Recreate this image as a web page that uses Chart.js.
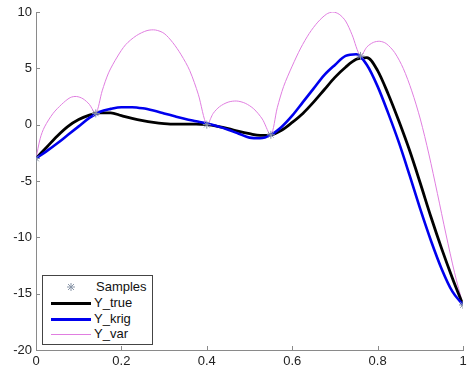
<!DOCTYPE html>
<html lang="en">
<head>
    <meta charset="UTF-8">
    <title>Kriging fit</title>
    <script src="https://cdn.jsdelivr.net/npm/chart.js"></script>
    <style>
        body { margin: 0; background: #fff; }
        #wrap { position: relative; width: 468px; height: 371px; }
        #legend {
            position: absolute; left: 42px; top: 275px; width: 109px; height: 68px;
            border: 1px solid #444; background: #fff;
            font: 13px "Liberation Sans", Arial, sans-serif; color: #111;
        }
        .row { position: absolute; left: 0; height: 16px; line-height: 16px; }
        .sw { position: absolute; left: 8px; width: 40px; }
        .lbl { position: absolute; left: 51px; white-space: nowrap; }
    </style>
</head>
<body>
    <div id="wrap">
        <canvas id="myChart" width="468" height="371"></canvas>
        <div id="legend">
            <div class="row" style="top:3px">
                <svg class="sw" style="top:3px" width="40" height="10">
                    <g stroke="#8a96a8" stroke-width="1">
                        <line x1="16" y1="5" x2="24" y2="5"/><line x1="20" y1="1" x2="20" y2="9"/>
                        <line x1="17" y1="2" x2="23" y2="8"/><line x1="23" y1="2" x2="17" y2="8"/>
                    </g>
                </svg>
                <span class="lbl" style="left:53px">Samples</span>
            </div>
            <div class="row" style="top:19px">
                <span class="sw" style="top:7px;border-top:3px solid #000"></span>
                <span class="lbl">Y_true</span>
            </div>
            <div class="row" style="top:35px">
                <span class="sw" style="top:7px;border-top:3px solid #0000ee"></span>
                <span class="lbl">Y_krig</span>
            </div>
            <div class="row" style="top:50px">
                <span class="sw" style="top:8px;border-top:1px solid #e07ee0"></span>
                <span class="lbl">Y_var</span>
            </div>
        </div>
    </div>

    <script>
        // shared x grid for the two smooth curves
        const xGrid = [0, 0.025, 0.05, 0.075, 0.1, 0.125, 0.15, 0.175, 0.2, 0.225,
            0.25, 0.275, 0.3, 0.325, 0.35, 0.375, 0.4, 0.425, 0.45, 0.475,
            0.5, 0.525, 0.55, 0.575, 0.6, 0.625, 0.65, 0.675, 0.7, 0.725,
            0.75, 0.775, 0.8, 0.825, 0.85, 0.875, 0.9, 0.925, 0.95, 0.975, 1];

        const yTrue = [-3, -2.0, -1.0, -0.15, 0.45, 0.85, 1.05, 1.05, 0.8, 0.55,
            0.35, 0.2, 0.1, 0.05, 0.05, 0.05, 0.0, -0.15, -0.35, -0.6,
            -0.8, -0.95, -0.9, -0.5, 0.2, 1.0, 2.0, 3.1, 4.2, 5.1,
            5.8, 5.95, 4.8, 2.7, 0.3, -2.3, -5.2, -8.2, -11.0, -13.6, -16];

        const yKrig = [-3, -2.35, -1.65, -0.9, -0.15, 0.6, 1.15, 1.4, 1.55, 1.55,
            1.45, 1.25, 1.0, 0.75, 0.5, 0.3, 0.1, -0.15, -0.45, -0.8,
            -1.15, -1.2, -0.9, -0.2, 0.8, 2.0, 3.2, 4.4, 5.3, 6.1,
            6.25, 5.3, 3.4, 1.0, -1.6, -4.5, -7.5, -10.3, -12.8, -14.8, -16];

        // variance curve (arches between the samples)
        const xVar = [0, 0.01, 0.02, 0.04, 0.06, 0.08, 0.095, 0.11, 0.125, 0.14,
            0.155, 0.17, 0.19, 0.21, 0.235, 0.26, 0.28, 0.3, 0.32, 0.34, 0.36, 0.38, 0.4,
            0.415, 0.43, 0.45, 0.47, 0.49, 0.51, 0.53, 0.55,
            0.565, 0.58, 0.6, 0.62, 0.64, 0.66, 0.68, 0.695, 0.71, 0.725, 0.74, 0.76,
            0.775, 0.79, 0.805, 0.82, 0.84, 0.86, 0.88, 0.9, 0.92, 0.94, 0.96, 0.98, 1];
        const yVar = [-3, -1.2, -0.2, 1.0, 1.8, 2.4, 2.5, 2.3, 1.8, 1.0,
            3.0, 4.6, 6.0, 7.1, 7.9, 8.35, 8.4, 8.1, 7.3, 6.2, 4.8, 2.7, 0.0,
            1.0, 1.6, 2.0, 2.1, 1.9, 1.4, 0.5, -0.9,
            1.5, 3.4, 5.2, 6.8, 8.1, 9.1, 9.8, 10.0, 9.8, 9.2, 8.0, 6.1,
            6.9, 7.3, 7.4, 7.2, 6.4, 5.0, 3.0, 0.5, -2.6, -6.1, -9.7, -13.1, -16];

        const xSamples = [0, 0.14, 0.4, 0.55, 0.76, 1];
        const ySamples = [-3, 1, 0, -0.9, 6.1, -16];

        const xTicks = [0, 0.2, 0.4, 0.6, 0.8, 1];
        const yTicks = [-20, -15, -10, -5, 0, 5, 10];

        const pts = (xs, ys) => xs.map((x, i) => ({ x: x, y: ys[i] }));

        // MATLAB style inward tick marks
        const inwardTicks = {
            id: 'inwardTicks',
            afterDraw(chart) {
                const c = chart.ctx, xs = chart.scales.x, ys = chart.scales.y;
                c.save();
                c.strokeStyle = '#8a8a8a';
                c.lineWidth = 1;
                c.beginPath();
                xTicks.forEach(v => {
                    const p = Math.round(xs.getPixelForValue(v)) + 0.5;
                    c.moveTo(p, ys.bottom); c.lineTo(p, ys.bottom - 4);
                });
                yTicks.forEach(v => {
                    const p = Math.round(ys.getPixelForValue(v)) + 0.5;
                    c.moveTo(xs.left, p); c.lineTo(xs.left + 4, p);
                });
                c.stroke();
                c.restore();
            }
        };

        const tickFont = { family: '"Liberation Sans", Arial, sans-serif', size: 13 };

        const config = {
            type: 'scatter',
            data: {
                datasets: [{
                    label: 'Samples',
                    data: pts(xSamples, ySamples),
                    showLine: false,
                    pointStyle: 'star',
                    radius: 4,
                    borderWidth: 1,
                    borderColor: '#8a96a8',
                    backgroundColor: '#8a96a8'
                }, {
                    label: 'Y_krig',
                    data: pts(xGrid, yKrig),
                    showLine: true,
                    borderColor: '#0000ee',
                    borderWidth: 2.6,
                    pointRadius: 0,
                    cubicInterpolationMode: 'monotone'
                }, {
                    label: 'Y_true',
                    data: pts(xGrid, yTrue),
                    showLine: true,
                    borderColor: '#000000',
                    borderWidth: 2.8,
                    pointRadius: 0,
                    cubicInterpolationMode: 'monotone'
                }, {
                    label: 'Y_var',
                    data: pts(xVar, yVar),
                    showLine: true,
                    borderColor: '#e07ee0',
                    borderWidth: 1,
                    pointRadius: 0,
                    tension: 0.3
                }]
            },
            options: {
                responsive: false,
                animation: false,
                layout: { padding: { top: 12, right: -2, left: 0, bottom: 0 } },
                plugins: { legend: { display: false }, tooltip: { enabled: false } },
                scales: {
                    x: {
                        type: 'linear', min: 0, max: 1,
                        afterFit: s => { s.height = 21; s.paddingRight = 0; s.paddingLeft = 0; },
                        afterBuildTicks: s => { s.ticks = xTicks.map(v => ({ value: v })); },
                        grid: { display: false, drawTicks: false },
                        border: { display: true, color: '#8a8a8a' },
                        ticks: { font: tickFont, color: '#222', padding: 4, maxRotation: 0,
                                 callback: v => String(v) }
                    },
                    y: {
                        type: 'linear', min: -20, max: 10,
                        afterFit: s => { s.width = 36; },
                        afterBuildTicks: s => { s.ticks = yTicks.map(v => ({ value: v })); },
                        grid: { display: false, drawTicks: false },
                        border: { display: true, color: '#8a8a8a' },
                        ticks: { font: tickFont, color: '#222', padding: 4 }
                    }
                }
            },
            plugins: [inwardTicks]
        };

        const ctx = document.getElementById('myChart').getContext('2d');
        const myChart = new Chart(ctx, config);
    </script>
</body>
</html>
